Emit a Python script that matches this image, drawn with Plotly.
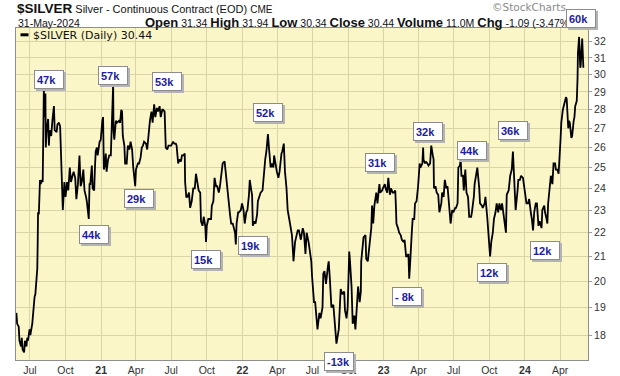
import math
import plotly.graph_objects as go

# ---------------- data ----------------
dates_2020 = ["2020-05-27", "2020-05-29",
              "2020-06-02", "2020-06-04", "2020-06-08", "2020-06-10", "2020-06-12", "2020-06-16", "2020-06-18", "2020-06-22", "2020-06-24", "2020-06-26", "2020-06-30",
              "2020-07-02", "2020-07-07", "2020-07-09", "2020-07-13", "2020-07-15", "2020-07-17", "2020-07-20", "2020-07-21", "2020-07-22", "2020-07-24", "2020-07-27", "2020-07-29", "2020-07-31",
              "2020-08-03", "2020-08-04", "2020-08-05", "2020-08-06", "2020-08-07", "2020-08-10", "2020-08-11", "2020-08-13", "2020-08-17", "2020-08-19", "2020-08-21", "2020-08-25", "2020-08-28",
              "2020-09-01", "2020-09-03", "2020-09-08", "2020-09-10", "2020-09-14", "2020-09-17", "2020-09-21", "2020-09-23", "2020-09-24", "2020-09-28",
              "2020-10-01", "2020-10-05", "2020-10-08", "2020-10-12", "2020-10-15", "2020-10-19", "2020-10-22", "2020-10-26", "2020-10-29",
              "2020-11-02", "2020-11-05", "2020-11-06", "2020-11-09", "2020-11-12", "2020-11-16", "2020-11-19", "2020-11-23", "2020-11-25", "2020-11-30",
              "2020-12-02", "2020-12-04", "2020-12-08", "2020-12-10", "2020-12-14", "2020-12-16", "2020-12-18", "2020-12-21", "2020-12-23", "2020-12-28", "2020-12-31"]
prices_2020 = [18.8, 18.4,
               18.3, 17.8, 17.6, 17.9, 17.5, 17.4, 17.8, 17.6, 17.9, 17.8, 18.2,
               18.0, 18.4, 18.8, 19.4, 19.5, 19.9, 20.5, 21.5, 22.9, 22.8, 24.4, 24.2, 24.4,
               24.3, 25.9, 27.0, 29.2, 27.6, 28.9, 26.0, 26.8, 27.5, 26.1, 26.9, 26.6, 27.4,
               28.2, 26.9, 26.8, 27.2, 27.3, 27.1, 24.6, 23.4, 23.0, 24.3,
               23.6, 24.3, 23.9, 25.0, 24.3, 24.6, 24.8, 24.5, 23.5,
               24.2, 25.2, 25.6, 24.1, 24.3, 24.9, 23.9, 23.6, 23.4, 22.6,
               24.2, 24.2, 25.1, 24.0, 23.9, 25.0, 25.8, 26.0, 25.6, 26.3, 26.4]

dates_2021 = ["2021-01-04", "2021-01-06", "2021-01-08", "2021-01-11", "2021-01-13", "2021-01-15", "2021-01-19", "2021-01-22", "2021-01-26", "2021-01-28",
              "2021-02-01", "2021-02-02", "2021-02-04", "2021-02-08", "2021-02-11", "2021-02-16", "2021-02-19", "2021-02-22", "2021-02-24", "2021-02-26",
              "2021-03-02", "2021-03-04", "2021-03-08", "2021-03-11", "2021-03-15", "2021-03-18", "2021-03-22", "2021-03-25", "2021-03-30",
              "2021-04-01", "2021-04-06", "2021-04-09", "2021-04-13", "2021-04-16", "2021-04-19", "2021-04-22", "2021-04-27", "2021-04-30",
              "2021-05-04", "2021-05-07", "2021-05-11", "2021-05-14", "2021-05-18", "2021-05-21", "2021-05-25", "2021-05-28",
              "2021-06-01", "2021-06-04", "2021-06-08", "2021-06-10", "2021-06-14", "2021-06-16", "2021-06-17", "2021-06-21", "2021-06-24", "2021-06-28",
              "2021-07-01", "2021-07-06", "2021-07-09", "2021-07-13", "2021-07-15", "2021-07-19", "2021-07-22", "2021-07-26", "2021-07-29",
              "2021-08-02", "2021-08-05", "2021-08-06", "2021-08-09", "2021-08-12", "2021-08-16", "2021-08-19", "2021-08-23", "2021-08-27", "2021-08-31",
              "2021-09-03", "2021-09-08", "2021-09-10", "2021-09-14", "2021-09-16", "2021-09-20", "2021-09-23", "2021-09-27", "2021-09-29",
              "2021-10-01", "2021-10-05", "2021-10-08", "2021-10-12", "2021-10-14", "2021-10-18", "2021-10-21", "2021-10-25", "2021-10-28",
              "2021-11-01", "2021-11-04", "2021-11-08", "2021-11-11", "2021-11-16", "2021-11-19", "2021-11-23", "2021-11-26", "2021-11-30",
              "2021-12-03", "2021-12-07", "2021-12-10", "2021-12-13", "2021-12-15", "2021-12-17", "2021-12-21", "2021-12-23", "2021-12-28", "2021-12-31"]
prices_2021 = [27.4, 27.6, 24.9, 25.2, 25.7, 24.8, 25.4, 25.6, 25.6, 26.9,
               29.4, 26.9, 26.4, 27.4, 27.3, 27.4, 27.3, 28.0, 27.9, 26.6,
               26.1, 25.2, 25.2, 26.1, 25.9, 26.3, 25.9, 25.0, 24.1,
               24.9, 25.2, 25.2, 25.5, 26.0, 26.1, 26.3, 26.2, 25.9,
               26.8, 27.4, 27.9, 27.3, 28.3, 27.6, 28.1, 27.9,
               28.2, 27.6, 28.0, 28.0, 27.9, 27.0, 26.0, 25.9, 26.1, 26.1,
               26.1, 26.3, 26.2, 26.2, 26.1, 25.2, 25.4, 25.3, 25.6,
               25.6, 25.7, 24.3, 23.6, 23.6, 23.8, 23.1, 23.4, 24.0, 24.0,
               24.7, 24.1, 23.9, 23.8, 22.5, 22.3, 22.7, 22.3, 21.6,
               22.3, 22.6, 22.6, 22.6, 23.2, 23.4, 24.5, 24.1, 24.1,
               23.8, 24.1, 24.7, 25.2, 25.3, 24.7, 24.1, 23.2, 22.8,
               22.4, 22.4, 22.2, 22.0, 21.5, 22.4, 22.9, 22.9, 23.0, 23.3]

dates_2022 = ["2022-01-04", "2022-01-07", "2022-01-11", "2022-01-14", "2022-01-18", "2022-01-20", "2022-01-24", "2022-01-26", "2022-01-28",
              "2022-02-01", "2022-02-04", "2022-02-08", "2022-02-10", "2022-02-14", "2022-02-17", "2022-02-22", "2022-02-24",
              "2022-03-01", "2022-03-04", "2022-03-08", "2022-03-11", "2022-03-15", "2022-03-18", "2022-03-22", "2022-03-24", "2022-03-29", "2022-03-31",
              "2022-04-04", "2022-04-07", "2022-04-12", "2022-04-14", "2022-04-18", "2022-04-21", "2022-04-25", "2022-04-28",
              "2022-05-02", "2022-05-05", "2022-05-09", "2022-05-12", "2022-05-13", "2022-05-17", "2022-05-20", "2022-05-24", "2022-05-27",
              "2022-06-01", "2022-06-06", "2022-06-09", "2022-06-13", "2022-06-16", "2022-06-21", "2022-06-24", "2022-06-28", "2022-06-30",
              "2022-07-05", "2022-07-08", "2022-07-12", "2022-07-14", "2022-07-19", "2022-07-22", "2022-07-27", "2022-07-29",
              "2022-08-01", "2022-08-05", "2022-08-10", "2022-08-12", "2022-08-15", "2022-08-19", "2022-08-24", "2022-08-26", "2022-08-31",
              "2022-09-01", "2022-09-07", "2022-09-09", "2022-09-12", "2022-09-14", "2022-09-16", "2022-09-21", "2022-09-23", "2022-09-27", "2022-09-30",
              "2022-10-03", "2022-10-04", "2022-10-06", "2022-10-10", "2022-10-13", "2022-10-17", "2022-10-20", "2022-10-24", "2022-10-27", "2022-10-31",
              "2022-11-03", "2022-11-04", "2022-11-10", "2022-11-15", "2022-11-17", "2022-11-21", "2022-11-25", "2022-11-30",
              "2022-12-02", "2022-12-05", "2022-12-08", "2022-12-13", "2022-12-16", "2022-12-21", "2022-12-23", "2022-12-28", "2022-12-30"]
prices_2022 = [23.0, 22.4, 22.9, 23.0, 23.7, 24.4, 23.9, 23.7, 22.3,
               22.5, 22.4, 22.8, 23.4, 23.6, 23.8, 23.9, 24.4,
               25.4, 25.8, 26.7, 25.9, 25.0, 25.2, 25.0, 25.6, 24.9, 24.8,
               24.5, 24.8, 25.7, 25.8, 26.2, 24.8, 24.0, 23.0,
               22.6, 22.3, 21.9, 21.1, 20.8, 21.6, 21.8, 22.1, 22.1,
               21.7, 22.2, 22.0, 21.1, 22.0, 21.6, 21.2, 20.8, 20.2,
               19.2, 19.2, 18.6, 18.2, 18.8, 18.6, 19.0, 20.3,
               20.4, 19.9, 20.6, 20.8, 20.1, 19.0, 19.1, 18.8, 17.8,
               17.7, 18.2, 18.8, 19.7, 19.6, 19.5, 19.6, 18.9, 18.6, 19.0,
               20.6, 21.2, 20.8, 19.8, 18.4, 18.7, 18.2, 19.3, 19.8, 19.2,
               19.6, 20.8, 21.8, 21.9, 20.9, 20.8, 21.5, 22.2,
               23.2, 22.4, 23.2, 23.8, 23.3, 24.2, 23.8, 23.9, 24.0]

dates_2023 = ["2023-01-04", "2023-01-06", "2023-01-10", "2023-01-13", "2023-01-17", "2023-01-20", "2023-01-24", "2023-01-27", "2023-01-31",
              "2023-02-02", "2023-02-03", "2023-02-07", "2023-02-10", "2023-02-14", "2023-02-17", "2023-02-22", "2023-02-24", "2023-02-28",
              "2023-03-02", "2023-03-06", "2023-03-08", "2023-03-10", "2023-03-13", "2023-03-15", "2023-03-17", "2023-03-21", "2023-03-23", "2023-03-27", "2023-03-31",
              "2023-04-04", "2023-04-06", "2023-04-11", "2023-04-13", "2023-04-14", "2023-04-18", "2023-04-20", "2023-04-24", "2023-04-27",
              "2023-05-01", "2023-05-04", "2023-05-08", "2023-05-10", "2023-05-11", "2023-05-15", "2023-05-18", "2023-05-22", "2023-05-25", "2023-05-30",
              "2023-06-01", "2023-06-05", "2023-06-08", "2023-06-12", "2023-06-15", "2023-06-20", "2023-06-23", "2023-06-27", "2023-06-30",
              "2023-07-05", "2023-07-07", "2023-07-11", "2023-07-13", "2023-07-17", "2023-07-19", "2023-07-21", "2023-07-25", "2023-07-27", "2023-07-31",
              "2023-08-03", "2023-08-07", "2023-08-10", "2023-08-15", "2023-08-17", "2023-08-22", "2023-08-24", "2023-08-29", "2023-08-31",
              "2023-09-05", "2023-09-07", "2023-09-12", "2023-09-14", "2023-09-19", "2023-09-21", "2023-09-26", "2023-09-28",
              "2023-10-02", "2023-10-03", "2023-10-06", "2023-10-10", "2023-10-13", "2023-10-17", "2023-10-20", "2023-10-24", "2023-10-27", "2023-10-31",
              "2023-11-03", "2023-11-07", "2023-11-10", "2023-11-13", "2023-11-15", "2023-11-20", "2023-11-24", "2023-11-28",
              "2023-12-01", "2023-12-04", "2023-12-06", "2023-12-08", "2023-12-13", "2023-12-15", "2023-12-19", "2023-12-22", "2023-12-27", "2023-12-29"]
prices_2023 = [24.2, 24.0, 23.8, 24.5, 23.7, 24.0, 23.8, 23.8, 23.9,
               23.0, 22.4, 22.2, 22.0, 21.9, 21.7, 21.6, 21.7, 21.0,
               21.0, 21.1, 20.1, 20.6, 21.8, 22.1, 22.6, 22.6, 23.3, 23.4, 24.1,
               25.2, 25.0, 25.2, 26.0, 25.4, 25.2, 25.3, 25.2, 25.1,
               25.2, 26.1, 25.6, 25.4, 24.0, 24.1, 23.8, 23.7, 22.9, 23.3,
               23.8, 23.6, 24.4, 24.0, 24.1, 22.8, 22.4, 23.0, 22.9,
               23.1, 23.1, 23.3, 25.0, 25.1, 25.4, 24.6, 24.6, 23.9, 24.9,
               23.8, 23.6, 22.7, 22.7, 22.9, 23.6, 24.2, 24.9, 25.0,
               24.0, 23.3, 23.2, 23.1, 23.3, 23.6, 22.6, 22.1,
               21.2, 21.0, 21.6, 22.0, 22.6, 22.9, 23.3, 22.9, 23.3, 23.0,
               23.3, 22.7, 22.4, 22.0, 23.7, 23.9, 24.6, 24.9,
               25.8, 24.7, 23.4, 23.0, 23.9, 24.4, 24.4, 24.6, 24.5, 24.2]

dates_2024 = ["2024-01-03", "2024-01-05", "2024-01-09", "2024-01-12", "2024-01-17", "2024-01-19", "2024-01-22", "2024-01-25", "2024-01-29",
              "2024-02-01", "2024-02-05", "2024-02-08", "2024-02-13", "2024-02-15", "2024-02-20", "2024-02-22", "2024-02-26", "2024-02-28",
              "2024-03-01", "2024-03-05", "2024-03-08", "2024-03-12", "2024-03-15", "2024-03-19", "2024-03-21", "2024-03-25", "2024-03-28",
              "2024-04-02", "2024-04-04", "2024-04-08", "2024-04-10", "2024-04-12", "2024-04-16", "2024-04-18", "2024-04-22", "2024-04-24", "2024-04-26", "2024-04-30",
              "2024-05-02", "2024-05-06", "2024-05-08", "2024-05-10", "2024-05-14", "2024-05-16", "2024-05-17", "2024-05-20", "2024-05-21", "2024-05-22",
              "2024-05-23", "2024-05-24", "2024-05-28", "2024-05-29", "2024-05-30", "2024-05-31"]
prices_2024 = [23.5, 23.3, 23.3, 23.5, 22.8, 22.6, 22.1, 22.9, 23.3,
               23.3, 22.3, 22.5, 22.2, 23.0, 23.2, 22.9, 22.6, 22.4,
               23.3, 24.0, 24.6, 24.2, 25.2, 25.2, 24.9, 24.9, 24.7,
               26.4, 27.3, 28.0, 28.2, 28.3, 28.7, 28.6, 27.0, 27.4, 27.3, 26.5,
               26.6, 27.4, 27.6, 28.2, 28.5, 29.8, 31.3, 32.3, 31.8, 31.4,
               30.4, 30.5, 32.2, 31.8, 31.5, 30.4]

# box annotations (label, anchor date, price level of box centre)
ann_labels = ["47k", "57k", "53k", "44k", "29k", "15k", "19k", "52k", "-13k",
              "31k", "- 8k", "32k", "44k", "12k", "36k", "12k", "60k"]
ann_dates = ["2020-08-19", "2021-01-31", "2021-06-19", "2020-12-14", "2021-04-09",
             "2021-09-29", "2022-01-29", "2022-03-09", "2022-09-08", "2022-12-22",
             "2023-03-03", "2023-04-25", "2023-08-16", "2023-10-07", "2023-11-30",
             "2024-02-21", "2024-05-24"]
ann_prices = [29.70, 29.96, 29.57, 21.94, 23.52, 20.86, 21.45, 27.84, 17.09,
              25.23, 19.40, 26.81, 25.84, 20.34, 26.90, 21.25, 33.47]

# axis ticks
x_tickvals = ["2020-07-01", "2020-10-01", "2021-01-01", "2021-04-01", "2021-07-01",
              "2021-10-01", "2022-01-01", "2022-04-01", "2022-07-01", "2022-10-01",
              "2023-01-01", "2023-04-01", "2023-07-01", "2023-10-01", "2024-01-01",
              "2024-04-01"]
x_ticktext = ["Jul", "Oct", "<b>21</b>", "Apr", "Jul", "Oct", "<b>22</b>", "Apr", "Jul",
              "Oct", "<b>23</b>", "Apr", "Jul", "Oct", "<b>24</b>", "Apr"]
y_tickvals = [18, 19, 20, 21, 22, 23, 24, 25, 26, 27, 28, 29, 30, 31, 32]
y_ticktext = [str(v) for v in y_tickvals]

# header values
last_date = "31-May-2024"
open_v, high_v, low_v, close_v = "31.34", "31.94", "30.34", "30.44"
volume_v, chg_v, chg_pct = "11.0M", "-1.09", "(-3.47%)"

for d, p in [(dates_2020, prices_2020), (dates_2021, prices_2021), (dates_2022, prices_2022),
             (dates_2023, prices_2023), (dates_2024, prices_2024)]:
    assert len(d) == len(p), (len(d), len(p))

dates = dates_2020 + dates_2021 + dates_2022 + dates_2023 + dates_2024
prices = prices_2020 + prices_2021 + prices_2022 + prices_2023 + prices_2024

# ---------------- layout geometry (screen pixels) ----------------
W, H = 620, 376
L, R, T, B = 16, 588, 28, 360
Y_LO, Y_HI = math.log10(17.14), math.log10(32.87)
PX_PER_DECADE = (B - T) / (Y_HI - Y_LO)


def px(xp):
    return (xp - L) / (R - L)


def py(yp):
    return (B - yp) / (B - T)


def y_anchor(price):
    """log-axis anchor kept inside the range, plus pixel shift for the rest"""
    ly = math.log10(price)
    eps = 1e-4
    cl = min(max(ly, Y_LO + eps), Y_HI - eps)
    return cl, (ly - cl) * PX_PER_DECADE


BG = "#FAF6C7"
GRID = "#D9D5A6"
AXIS = "#8E8E8E"

fig = go.Figure()
fig.add_trace(go.Scatter(x=dates, y=prices, mode="lines",
                         line=dict(color="#000000", width=1.8),
                         hoverinfo="x+y", showlegend=False))

annotations = []
# header row 1
annotations.append(dict(
    xref="paper", yref="paper", x=px(15), y=py(9), xanchor="left", yanchor="middle",
    showarrow=False, align="left",
    text='<span style="font-size:13.5px"><b>$SILVER</b></span> Silver - Continuous Contract (EOD) '
         '<span style="font-size:10px">CME</span>',
    font=dict(family="Liberation Sans, Arial", size=11, color="#111111")))
# watermark
annotations.append(dict(
    xref="paper", yref="paper", x=px(490), y=py(7), xanchor="left", yanchor="middle",
    showarrow=False, text="©StockCharts",
    font=dict(family="DejaVu Sans", size=10.5, color="#8a8a8a")))
# header row 2
annotations.append(dict(
    xref="paper", yref="paper", x=px(16), y=py(22.5), xanchor="left", yanchor="middle",
    showarrow=False, text=last_date,
    font=dict(family="Liberation Sans, Arial", size=10.5, color="#111111")))


def lab(s):
    return '<span style="font-size:13px"><b>' + s + '</b></span>'


row2 = (lab("Open") + " " + open_v + " " + lab("High") + " " + high_v + " " +
        lab("Low") + " " + low_v + " " + lab("Close") + " " + close_v + " " +
        lab("Volume") + " " + volume_v + " " + lab("Chg") + " " + chg_v + " " + chg_pct)
annotations.append(dict(
    xref="paper", yref="paper", x=px(142.7), y=py(22.5), xanchor="left", yanchor="middle",
    showarrow=False, text=row2,
    font=dict(family="Liberation Sans, Arial", size=10.5, color="#111111")))
# in-plot legend text
annotations.append(dict(
    xref="paper", yref="paper", x=px(31), y=py(35), xanchor="left", yanchor="middle",
    showarrow=False, text="$SILVER (Daily) " + close_v,
    font=dict(family="DejaVu Sans", size=11, color="#111111")))

# box shadows (blank boxes offset down-right)
for lbl, d, p in zip(ann_labels, ann_dates, ann_prices):
    ya, ys = y_anchor(p)
    annotations.append(dict(
        x=d, y=ya, xref="x", yref="y", showarrow=False,
        xanchor="center", yanchor="middle", xshift=2, yshift=ys - 2,
        text=" ", align="left", valign="middle",
        width=24, height=13, borderpad=2, borderwidth=1,
        bgcolor="#B4B4B4", bordercolor="#B4B4B4",
        font=dict(family="Liberation Sans, Arial", size=11, color="#B4B4B4")))
# boxes
for lbl, d, p in zip(ann_labels, ann_dates, ann_prices):
    ya, ys = y_anchor(p)
    annotations.append(dict(
        x=d, y=ya, xref="x", yref="y", showarrow=False,
        xanchor="center", yanchor="middle", yshift=ys,
        text="<b>" + lbl + "</b>", align="left", valign="middle",
        width=24, height=13, borderpad=2, borderwidth=1,
        bgcolor="#FFFFFF", bordercolor="#8C8C8C",
        font=dict(family="Liberation Sans, Arial", size=11, color="#1C1CA0")))

shapes = [dict(type="line", xref="paper", yref="paper",
               x0=px(20.5), x1=px(28.5), y0=py(34.8), y1=py(34.8),
               line=dict(color="#000000", width=3))]

fig.update_layout(
    width=W, height=H,
    margin=dict(l=L, r=W - R, t=T, b=H - B, pad=0, autoexpand=False),
    paper_bgcolor="#FFFFFF", plot_bgcolor=BG,
    showlegend=False,
    annotations=annotations,
    shapes=shapes,
    xaxis=dict(type="date", range=["2020-05-26", "2024-06-12"], automargin=False,
               tickmode="array", tickvals=x_tickvals, ticktext=x_ticktext,
               showgrid=True, gridcolor=GRID, gridwidth=1,
               showline=True, mirror=True, linecolor=AXIS, linewidth=1,
               ticks="", zeroline=False,
               tickfont=dict(family="Liberation Sans, Arial", size=10.5, color="#333333")),
    yaxis=dict(type="log", range=[Y_LO, Y_HI], automargin=False,
               side="right", tickmode="array", tickvals=y_tickvals, ticktext=y_ticktext,
               showgrid=True, gridcolor=GRID, gridwidth=1,
               showline=True, mirror=True, linecolor=AXIS, linewidth=1,
               ticks="outside", ticklen=3, tickcolor="#A0A0A0", zeroline=False,
               tickfont=dict(family="Liberation Sans, Arial", size=10.5, color="#333333")),
)

# no mode bar; remove the default page margin so the figure sits at the window's corner
fig.write_html("out.html",
               config={"displayModeBar": False, "staticPlot": True},
               post_script="document.body.style.margin='0';document.body.style.overflow='hidden';")
